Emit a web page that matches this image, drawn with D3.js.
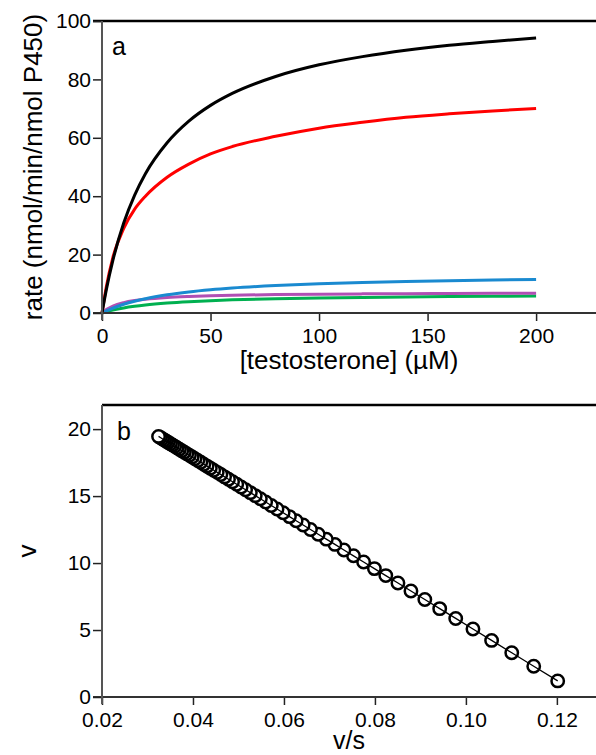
<!DOCTYPE html>
<html>
<head>
<meta charset="utf-8">
<script src="https://cdn.jsdelivr.net/npm/d3@7"></script>
<style>
  html, body { margin: 0; padding: 0; background: #fff; }
  svg { display: block; font-family: "Liberation Sans", Arial, Helvetica, sans-serif; }
</style>
</head>
<body>
<svg id="chart" width="596" height="755"></svg>
<script>
// Panel a: substrate concentration (µM) and rate for each enzyme curve
const conc = [0, 2, 5, 10, 15, 20, 30, 40, 50, 60, 80, 100, 120, 140, 160, 180, 200];
const rateBlack  = [0, 8.0, 18.0, 30.8, 40.3, 47.7, 58.3, 65.7, 71.1, 75.2, 81.0, 85.0, 87.8, 90.0, 91.7, 93.0, 94.2];
const rateRed    = [0, 9.0, 19.0, 29.0, 35.5, 40.0, 46.5, 51.0, 54.5, 57.0, 60.5, 63.3, 65.3, 67.0, 68.2, 69.2, 70.0];
const rateBlue   = [0, 0.73, 1.69, 3.0, 4.05, 4.91, 6.23, 7.2, 7.94, 8.53, 9.39, 10.0, 10.45, 10.8, 11.08, 11.3, 11.49];
const ratePurple = [0, 1.18, 2.37, 3.55, 4.26, 4.73, 5.33, 5.68, 5.92, 6.09, 6.31, 6.45, 6.55, 6.63, 6.68, 6.73, 6.76];
const rateGreen  = [0, 0.44, 1.0, 1.74, 2.3, 2.75, 3.41, 3.88, 4.23, 4.5, 4.89, 5.16, 5.35, 5.5, 5.62, 5.71, 5.79];
const seriesNames  = ["green", "purple", "blue", "red", "black"];
const seriesColors = ["#00b050", "#b04fb4", "#1a8ad0", "#ff0000", "#000000"];
const seriesValues = [rateGreen, ratePurple, rateBlue, rateRed, rateBlack];
const ticksA_x = [0, 50, 100, 150, 200];
const ticksA_y = [0, 20, 40, 60, 80, 100];

// Panel b: Eadie–Hofstee points (v/s, v)
const vOverS = [0.12018, 0.11491, 0.11008, 0.10565, 0.10155, 0.09776, 0.09424, 0.09097, 0.08792, 0.08506,
  0.08239, 0.07988, 0.07751, 0.07529, 0.07318, 0.07120, 0.06931, 0.06753, 0.06583, 0.06422,
  0.06268, 0.06121, 0.05982, 0.05848, 0.05721, 0.05598, 0.05481, 0.05369, 0.05261, 0.05157,
  0.05058, 0.04962, 0.04870, 0.04781, 0.04695, 0.04613, 0.04533, 0.04456, 0.04381, 0.04309,
  0.04239, 0.04172, 0.04107, 0.04043, 0.03982, 0.03922, 0.03864, 0.03808, 0.03754, 0.03701,
  0.03649, 0.03599, 0.03550, 0.03503, 0.03456, 0.03411, 0.03368, 0.03325, 0.03283, 0.03243];
const vValues = [1.202, 2.298, 3.303, 4.226, 5.078, 5.866, 6.597, 7.278, 7.913, 8.506,
  9.063, 9.585, 10.077, 10.540, 10.978, 11.391, 11.783, 12.155, 12.508, 12.843,
  13.163, 13.467, 13.758, 14.036, 14.301, 14.556, 14.799, 15.033, 15.257, 15.472,
  15.680, 15.879, 16.071, 16.255, 16.434, 16.606, 16.772, 16.932, 17.087, 17.237,
  17.382, 17.522, 17.658, 17.790, 17.917, 18.041, 18.162, 18.279, 18.393, 18.503,
  18.610, 18.714, 18.816, 18.914, 19.010, 19.104, 19.195, 19.284, 19.371, 19.455];
const ticksB_x = [0.02, 0.04, 0.06, 0.08, 0.10, 0.12];
const ticksB_y = [0, 5, 10, 15, 20];

const svg = d3.select("#chart");
const W = 596;

// ---------- helpers ----------
function drawAxes(g, x, y, opts) {
  const x0 = x.range()[0], y0 = y.range()[0], yTop = y.range()[1];
  // top frame line
  g.append("line").attr("x1", opts.topLeft).attr("x2", W).attr("y1", yTop).attr("y2", yTop)
    .attr("stroke", "#000").attr("stroke-width", 2.5);
  // x axis
  const ax = d3.axisBottom(x).tickValues(opts.xTicks).tickSize(8).tickSizeOuter(0)
    .tickFormat(opts.xFmt);
  const gx = g.append("g").attr("transform", `translate(0,${y0})`).call(ax);
  gx.select(".domain").remove();
  gx.selectAll(".tick line").attr("stroke", "#222").attr("stroke-width", 1.5);
  gx.selectAll(".tick text").attr("fill", "#000").attr("font-size", 21).attr("y", 15)
    .attr("dy", "0.71em").attr("font-family", "Liberation Sans, Arial, sans-serif");
  g.append("line").attr("x1", x0 - 9).attr("x2", W).attr("y1", y0).attr("y2", y0)
    .attr("stroke", "#333").attr("stroke-width", 2);
  // y axis
  const ay = d3.axisLeft(y).tickValues(opts.yTicks).tickSize(9).tickSizeOuter(0).tickPadding(2);
  const gy = g.append("g").attr("transform", `translate(${x0},0)`).call(ay);
  gy.select(".domain").remove();
  gy.selectAll(".tick line").attr("stroke", "#222").attr("stroke-width", 1.5);
  gy.selectAll(".tick text").attr("fill", "#000").attr("font-size", 21)
    .attr("font-family", "Liberation Sans, Arial, sans-serif");
  g.append("line").attr("x1", x0).attr("x2", x0).attr("y1", yTop).attr("y2", y0 + 7)
    .attr("stroke", "#555").attr("stroke-width", 2);
}

// ---------- panel a ----------
const xa = d3.scaleLinear().domain([0, 227.6]).range([102, 596]);
const ya = d3.scaleLinear().domain([0, 100]).range([313, 21]);
const ga = svg.append("g");

const lineA = d3.line().x((d, i) => xa(conc[i])).y(d => ya(d)).curve(d3.curveMonotoneX);
seriesValues.forEach((vals, k) => {
  ga.append("path").datum(vals).attr("d", lineA).attr("fill", "none")
    .attr("stroke", seriesColors[k]).attr("stroke-width", 3).attr("class", "curve-" + seriesNames[k]);
});

drawAxes(ga, xa, ya, { topLeft: 93, xTicks: ticksA_x, yTicks: ticksA_y, xFmt: d3.format("d") });

ga.append("text").attr("x", 112).attr("y", 55).attr("font-size", 25).text("a");
ga.append("text").attr("x", 349).attr("y", 369).attr("text-anchor", "middle")
  .attr("font-size", 26).text("[testosterone] (µM)");
ga.append("text").attr("transform", "translate(42,167) rotate(-90)").attr("text-anchor", "middle")
  .attr("font-size", 26).text("rate (nmol/min/nmol P450)");

// ---------- panel b ----------
const xb = d3.scaleLinear().domain([0.02, 0.1286]).range([102, 596]);
const yb = d3.scaleLinear().domain([0, 21.8]).range([697, 405]);
const gb = svg.append("g");

drawAxes(gb, xb, yb, { topLeft: 102, xTicks: ticksB_x, yTicks: ticksB_y, xFmt: d3.format(".2f") });

const pts = vOverS.map((d, i) => ({ x: d, y: vValues[i] }));
gb.selectAll("circle.pt").data(pts).join("circle").attr("class", "pt")
  .attr("cx", d => xb(d.x)).attr("cy", d => yb(d.y)).attr("r", 6.2)
  .attr("fill", "#fff").attr("stroke", "#000").attr("stroke-width", 2.5);
gb.append("path").datum(pts)
  .attr("d", d3.line().x(d => xb(d.x)).y(d => yb(d.y)))
  .attr("fill", "none").attr("stroke", "#000").attr("stroke-width", 1.3);

gb.append("text").attr("x", 117).attr("y", 440).attr("font-size", 25).text("b");
gb.append("text").attr("x", 349).attr("y", 749).attr("text-anchor", "middle")
  .attr("font-size", 25).text("v/s");
gb.append("text").attr("transform", "translate(36,551) rotate(-90)").attr("text-anchor", "middle")
  .attr("font-size", 26).text("v");
</script>
</body>
</html>
